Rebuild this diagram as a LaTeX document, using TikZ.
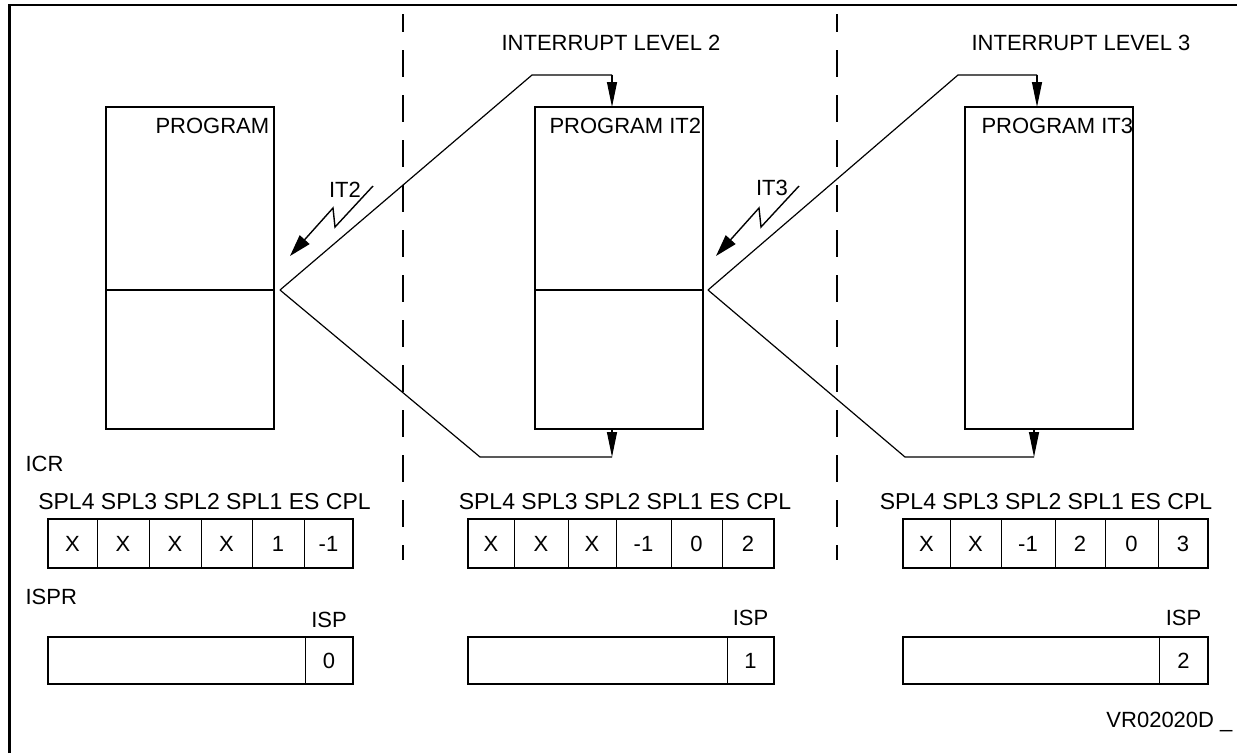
\documentclass[tikz,border=0pt]{standalone}
\usepackage{fontspec}
\setmainfont{Liberation Sans}
\usetikzlibrary{arrows.meta}
\begin{document}
\begin{tikzpicture}[x=1pt,y=-1pt,line width=1.1pt,
  txt/.style={inner sep=0pt,font=\fontsize{22}{26}\selectfont},
  lbl/.style={inner sep=0pt,font=\fontsize{23}{27}\selectfont},
  prog/.style={draw,inner sep=0pt,outer sep=0pt,minimum width=168pt,minimum height=322pt,anchor=north west},
  cell/.style={draw,line width=0.9pt,inner sep=0pt,outer sep=0pt,minimum height=49pt,font=\fontsize{22}{26}\selectfont},
  ispbox/.style={draw,line width=0.9pt,inner sep=0pt,outer sep=0pt,minimum height=47pt,font=\fontsize{22}{26}\selectfont},
  sep/.style={line width=1.6pt,dash pattern=on 27pt off 18pt,dash phase=9pt},
  flow/.style={line width=1.2pt},
  tip/.style={-{Triangle[length=25pt,width=10pt]}},
  bolt/.style={line width=1.4pt,-{Triangle[length=22pt,width=13pt]}}]
\useasboundingbox (0,0) rectangle (1237,753);
% frame
\draw[line width=2.6pt] (9.5,753) -- (9.5,5) -- (1237,5);
% separators
\coordinate (s1t) at (403,14); \coordinate (s1b) at (403,560);
\coordinate (s2t) at (837,14); \coordinate (s2b) at (837,560);
\draw[sep] (s1t) -- (s1b);
\draw[sep] (s2t) -- (s2b);
% titles
\node[txt] (lv2) at (611,43) {INTERRUPT LEVEL 2};
\node[txt] (lv3) at (1081,43) {INTERRUPT LEVEL 3};
% program boxes
\node[prog] (p1) at (106,107) {};
\node[prog] (p2) at (535,107) {};
\node[prog] (p3) at (965,107) {};
\draw (106,290) -- (274,290);
\draw (535,290) -- (703,290);
\node[txt,anchor=north west] (t1) at (155,118) {PROGRAM};
\node[txt,anchor=north west] (t2) at (549,118) {PROGRAM IT2};
\node[txt,anchor=north west] (t3) at (981,118) {PROGRAM IT3};
% connectors level 2
\coordinate (v1) at (280,290);
\coordinate (u2) at (532,75);
\coordinate (a2) at (612,75);
\coordinate (b2) at (612,457);
\coordinate (l2) at (480,457);
\draw[flow] (v1) -- (u2) -- (a2);
\draw[flow,tip] (a2) -- (a2 |- p2.north);
\draw[flow,tip] (b2 |- p2.south) -- (b2);
\draw[flow] (b2) -- (l2) -- (v1);
% connectors level 3
\coordinate (v2) at (708,290);
\coordinate (u3) at (958,75);
\coordinate (a3) at (1037,75);
\coordinate (b3) at (1034,457);
\coordinate (l3) at (905,457);
\draw[flow] (v2) -- (u3) -- (a3);
\draw[flow,tip] (a3) -- (a3 |- p3.north);
\draw[flow,tip] (b3 |- p3.south) -- (b3);
\draw[flow] (b3) -- (l3) -- (v2);
% interrupt bolts
\node[txt] (it2) at (345,190) {IT2};
\node[txt] (it3) at (772,188) {IT3};
\coordinate (z2a) at (373,186); \coordinate (z2b) at (335,227); \coordinate (z2c) at (333,208); \coordinate (z2d) at (290,256);
\coordinate (z3a) at (799,186); \coordinate (z3b) at (761,227); \coordinate (z3c) at (759,208); \coordinate (z3d) at (716,256);
\draw[bolt] (z2a) -- (z2b) -- (z2c) -- (z2d);
\draw[bolt] (z3a) -- (z3b) -- (z3c) -- (z3d);
% register labels
\node[txt,anchor=west] (icr) at (25,464) {ICR};
\node[txt,anchor=west] (ispr) at (25,597) {ISPR};
\node[lbl] (h1) at (204.5,502) {SPL4 SPL3 SPL2 SPL1 ES CPL};
\node[lbl] (h2) at (625,502) {SPL4 SPL3 SPL2 SPL1 ES CPL};
\node[lbl] (h3) at (1046,502) {SPL4 SPL3 SPL2 SPL1 ES CPL};
% ICR cells
\foreach \xa/\xb/\v [count=\i] in {48/97/X,97/149/X,149/201/X,201/252/X,252/304/1,304/353/-1}
  \node[cell,minimum width={(\xb-\xa)*1pt}] (ca\i) at ({(\xa+\xb)/2},543.5) {\v};
\foreach \xa/\xb/\v [count=\i] in {468/514/X,514/568/X,568/616/X,616/671/-1,671/722/0,722/774/2}
  \node[cell,minimum width={(\xb-\xa)*1pt}] (cb\i) at ({(\xa+\xb)/2},543.5) {\v};
\foreach \xa/\xb/\v [count=\i] in {903/950/X,950/1001/X,1001/1055/-1,1055/1105/2,1105/1158/0,1158/1208/3}
  \node[cell,minimum width={(\xb-\xa)*1pt}] (cc\i) at ({(\xa+\xb)/2},543.5) {\v};
\draw[line width=1.5pt] (ca1.north west) rectangle (ca6.south east);
\draw[line width=1.5pt] (cb1.north west) rectangle (cb6.south east);
\draw[line width=1.5pt] (cc1.north west) rectangle (cc6.south east);
% ISPR
\node[ispbox,minimum width=257pt] (ra) at (176.5,660.5) {};
\node[ispbox,minimum width=48pt] (rav) at (329,660.5) {0};
\node[ispbox,minimum width=259pt] (rb) at (597.5,660.5) {};
\node[ispbox,minimum width=47pt] (rbv) at (750.5,660.5) {1};
\node[ispbox,minimum width=256pt] (rc) at (1031,660.5) {};
\node[ispbox,minimum width=49pt] (rcv) at (1183.5,660.5) {2};
\draw[line width=1.5pt] (ra.north west) rectangle (rav.south east);
\draw[line width=1.5pt] (rb.north west) rectangle (rbv.south east);
\draw[line width=1.5pt] (rc.north west) rectangle (rcv.south east);
\node[txt] (isp1) at (329,620) {ISP};
\node[txt] (isp2) at (750.5,618) {ISP};
\node[txt] (isp3) at (1183.5,618) {ISP};
\node[txt,anchor=east] (vr) at (1233,722) {VR02020D \_};
\end{tikzpicture}
\end{document}
